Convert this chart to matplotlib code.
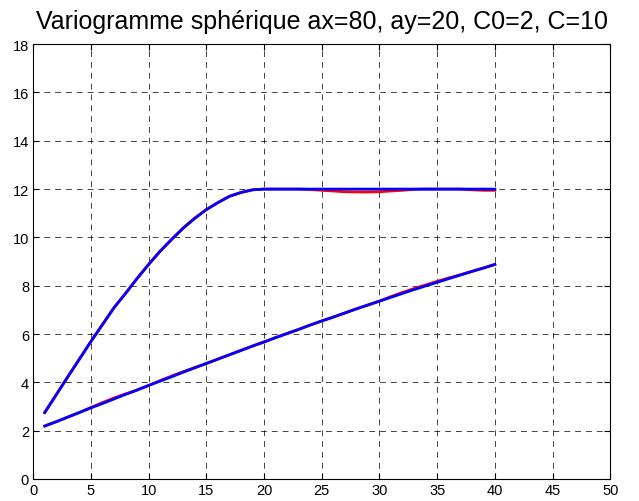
import numpy as np
import matplotlib.pyplot as plt

# distances (lags)
h = np.arange(1, 41)

# theoretical spherical variogram, ay=20 (upper) and ax=80 (lower)
gy_theo = [2.75, 3.49, 4.23, 4.96, 5.69, 6.39, 7.09, 7.68, 8.30, 8.88,
           9.43, 9.92, 10.38, 10.79, 11.15, 11.44, 11.70, 11.86, 11.97, 12.0,
           12.0, 12.0, 12.0, 12.0, 12.0, 12.0, 12.0, 12.0, 12.0, 12.0,
           12.0, 12.0, 12.0, 12.0, 12.0, 12.0, 12.0, 12.0, 12.0, 12.0]
gx_theo = [2.19, 2.37, 2.56, 2.75, 2.94, 3.12, 3.31, 3.50, 3.68, 3.87,
           4.05, 4.23, 4.42, 4.60, 4.78, 4.96, 5.14, 5.32, 5.50, 5.67,
           5.85, 6.02, 6.19, 6.37, 6.54, 6.70, 6.87, 7.04, 7.20, 7.36,
           7.52, 7.68, 7.84, 7.99, 8.14, 8.29, 8.44, 8.59, 8.73, 8.88]

gy_exp = [2.75, 3.49, 4.23, 4.96, 5.69, 6.39, 7.09, 7.68, 8.30, 8.88,
          9.43, 9.92, 10.40, 10.80, 11.15, 11.44, 11.70, 11.86, 11.97, 12.0,
          12.0, 12.0, 12.0, 11.98, 11.95, 11.92, 11.89, 11.88, 11.88, 11.89,
          11.92, 11.95, 11.99, 12.0, 12.0, 12.0, 12.0, 11.97, 11.95, 11.95]
gx_exp = [2.19, 2.37, 2.56, 2.75, 2.96, 3.16, 3.35, 3.52, 3.68, 3.87,
          4.07, 4.26, 4.44, 4.61, 4.78, 4.96, 5.14, 5.32, 5.50, 5.67,
          5.85, 6.02, 6.19, 6.37, 6.54, 6.70, 6.87, 7.04, 7.20, 7.36,
          7.55, 7.72, 7.88, 8.03, 8.18, 8.32, 8.45, 8.59, 8.73, 8.88]

fig = plt.figure(figsize=(6.39, 5.02), dpi=100)
ax = fig.add_axes([0.052, 0.044, 0.903, 0.866])

ax.plot(h, gy_exp, "r", linewidth=2)
ax.plot(h, gx_exp, "r", linewidth=2)
ax.plot(h, gy_theo, "b", linewidth=2)
ax.plot(h, gx_theo, "b", linewidth=2)

ax.set_xlim(0, 50)
ax.set_ylim(0, 18)
ax.set_xticks(np.arange(0, 51, 5))
ax.set_yticks(np.arange(0, 19, 2))
ax.grid(True, color="k", linestyle=(0, (7, 6)), linewidth=0.6, alpha=0.85)
ax.set_axisbelow(True)
ax.tick_params(direction="in", top=True, right=True, length=4,
               labelsize=10.5, pad=3)
for lab in ax.get_xticklabels() + ax.get_yticklabels():
    lab.set_family("Liberation Sans")

ax.set_title("Variogramme sphérique ax=80, ay=20, C0=2, C=10",
             fontsize=18, family="Liberation Sans", pad=12)

fig.savefig("out.png", dpi=100)
